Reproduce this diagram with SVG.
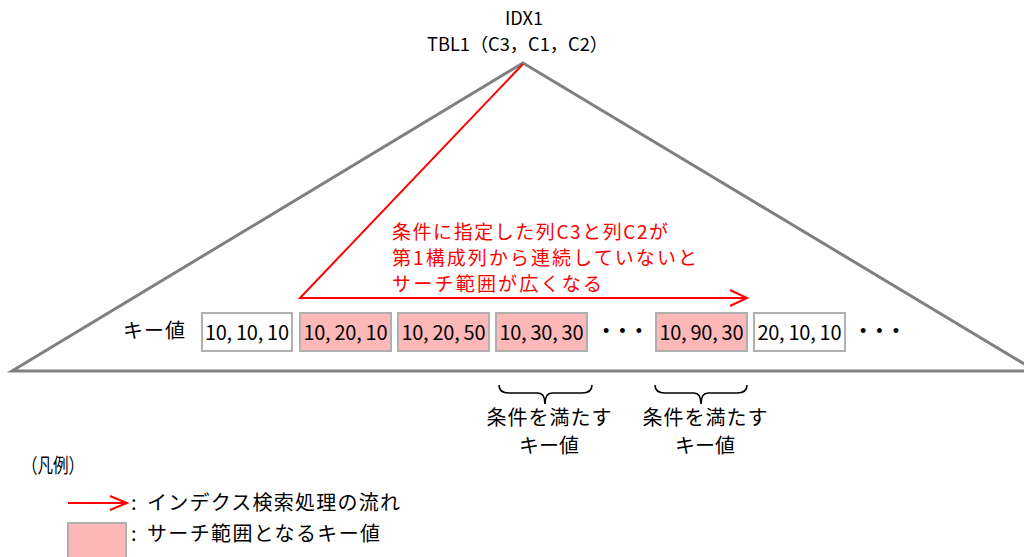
<svg xmlns="http://www.w3.org/2000/svg" width="1024" height="557" viewBox="0 0 1024 557">
<style>
.t{font-family:"Noto Sans CJK JP","Liberation Sans",sans-serif;font-size:20px;fill:#000}
.s{font-size:18px}
.n{font-size:19px}
.r{fill:#ff0000}
.k{fill:#fff;stroke:#b0b0b0;stroke-width:2}
.p{fill:#ffb8b8;stroke:#b0b0b0;stroke-width:2}
.br{fill:none;stroke:#000;stroke-width:1.6}
.red{fill:none;stroke:#ff0000;stroke-width:2}
.dot{font-family:"Liberation Sans",sans-serif;font-size:18px}
</style>
<rect width="1024" height="557" fill="#fff"/>
<g id="index">
<polygon points="523,63 12,371 1036,371" fill="none" stroke="#808080" stroke-width="3"/>
<text class="t s" x="524" y="25" text-anchor="middle" textLength="38" lengthAdjust="spacingAndGlyphs">IDX1</text>
<text class="t s" x="427" y="51" textLength="181" lengthAdjust="spacingAndGlyphs">TBL1（C3，C1，C2）</text>
</g>
<g id="connectors">
<polyline class="red" points="523,64 300,298 746,298"/>
<polyline class="red" points="730,290 747,298 730,306"/>
</g>
<g id="note">
<text class="t n r" x="392" y="239" textLength="276" lengthAdjust="spacing">条件に指定した列C3と列C2が</text>
<text class="t n r" x="392" y="265" textLength="305" lengthAdjust="spacing">第1構成列から連続していないと</text>
<text class="t n r" x="392" y="291" textLength="210" lengthAdjust="spacing">サーチ範囲が広くなる</text>
</g>
<g id="keylabel"><text class="t" x="123" y="338" textLength="62" lengthAdjust="spacing">キー値</text></g>
<g id="key1"><rect class="k" x="202" y="313" width="90" height="38"/><text class="t" x="247" y="340" text-anchor="middle" textLength="84" lengthAdjust="spacing">10, 10, 10</text></g>
<g id="key2"><rect class="p" x="300" y="313" width="91" height="38"/><text class="t" x="345.5" y="340" text-anchor="middle" textLength="84" lengthAdjust="spacing">10, 20, 10</text></g>
<g id="key3"><rect class="p" x="398" y="313" width="91" height="38"/><text class="t" x="443.5" y="340" text-anchor="middle" textLength="84" lengthAdjust="spacing">10, 20, 50</text></g>
<g id="key4"><rect class="p" x="496" y="313" width="91" height="38"/><text class="t" x="541.5" y="340" text-anchor="middle" textLength="84" lengthAdjust="spacing">10, 30, 30</text></g>
<g id="dots1"><text class="dot" x="603" y="337" textLength="39" lengthAdjust="spacing">• • •</text></g>
<g id="key5"><rect class="p" x="656" y="313" width="91" height="38"/><text class="t" x="701.5" y="340" text-anchor="middle" textLength="84" lengthAdjust="spacing">10, 90, 30</text></g>
<g id="key6"><rect class="k" x="754" y="313" width="91" height="38"/><text class="t" x="799.5" y="340" text-anchor="middle" textLength="84" lengthAdjust="spacing">20, 10, 10</text></g>
<g id="dots2"><text class="dot" x="860" y="337" textLength="39" lengthAdjust="spacing">• • •</text></g>
<g id="brace1">
<path class="br" d="M499,385 Q499,393 509,393 L538,393 Q545,393 545,404 Q545,393 552,393 L582,393 Q592,393 592,385"/>
<text class="t" x="549" y="425" text-anchor="middle" textLength="125" lengthAdjust="spacing">条件を満たす</text>
<text class="t" x="549" y="453" text-anchor="middle">キー値</text>
</g>
<g id="brace2">
<path class="br" d="M655,385 Q655,393 665,393 L694,393 Q701,393 701,404 Q701,393 708,393 L737,393 Q747,393 747,385"/>
<text class="t" x="705" y="425" text-anchor="middle" textLength="125" lengthAdjust="spacing">条件を満たす</text>
<text class="t" x="705" y="453" text-anchor="middle">キー値</text>
</g>
<g id="legend">
<text class="t" x="22" y="473" textLength="62" lengthAdjust="spacingAndGlyphs">（凡例）</text>
<line x1="68" y1="503" x2="126" y2="503" stroke="#ff0000" stroke-width="2"/>
<polyline class="red" points="110,496 127,503 110,510"/>
<text class="t" x="131" y="510">:</text>
<text class="t" x="147" y="510" textLength="253" lengthAdjust="spacing">インデクス検索処理の流れ</text>
<rect class="p" x="68" y="523" width="58" height="40"/>
<text class="t" x="131" y="541">:</text>
<text class="t" x="147" y="541" textLength="233" lengthAdjust="spacing">サーチ範囲となるキー値</text>
</g>
</svg>
